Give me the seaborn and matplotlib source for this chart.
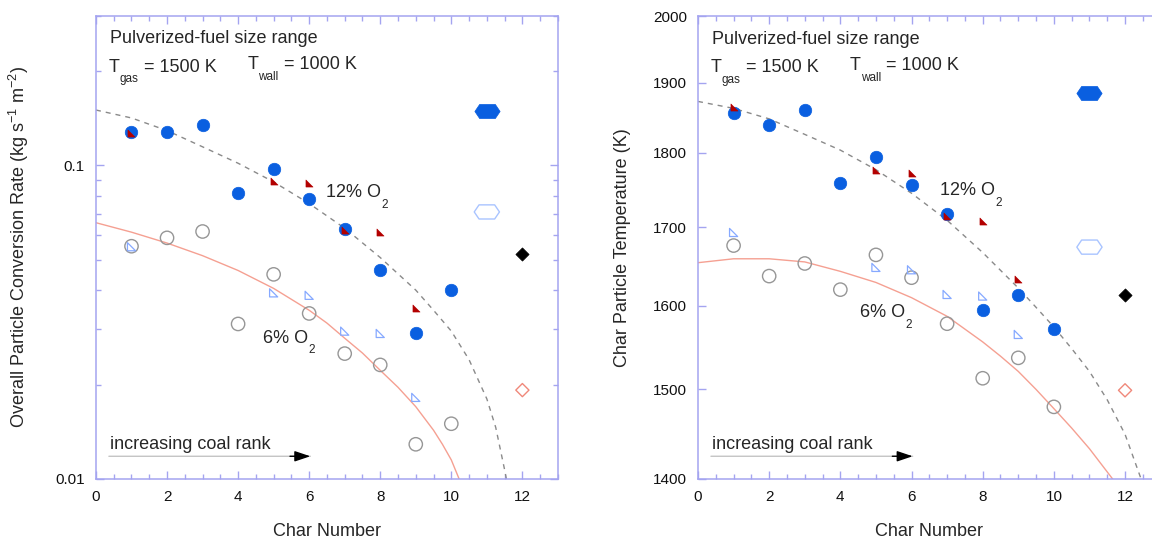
import matplotlib
matplotlib.use("Agg")
import matplotlib.pyplot as plt
from matplotlib.path import Path
from matplotlib.ticker import FixedLocator, FixedFormatter, NullLocator, NullFormatter, MultipleLocator
import pandas as pd
import seaborn as sns

# ---- values ----
char = [1, 2, 3, 4, 5, 6, 7, 8, 9, 10]
tri_char = [1, 5, 6, 7, 8, 9]
hex_char = [11]
dia_char = [12]

# left panel: overall particle conversion rate (kg s-1 m-2)
rate_12 = [0.128, 0.128, 0.134, 0.0818, 0.0971, 0.0781, 0.0628, 0.0463, 0.0291, 0.0400]
rate_6 = [0.0552, 0.0587, 0.0615, 0.0312, 0.0449, 0.0337, 0.0251, 0.0231, 0.0129, 0.0150]
rate_12_tri = [0.127, 0.0891, 0.0877, 0.0620, 0.0613, 0.0350]
rate_6_tri = [0.0550, 0.0392, 0.0385, 0.0296, 0.0291, 0.0182]
rate_hex_12 = [0.1488]
rate_hex_6 = [0.0710]
rate_dia_12 = [0.0521]
rate_dia_6 = [0.0192]
fit12_rate_x = [0, 1, 2, 3, 4, 5, 6, 7, 8, 9, 9.5, 10, 10.5, 11, 11.25, 11.5, 11.55]
fit12_rate = [0.150, 0.1415, 0.129, 0.1145, 0.1015, 0.0885, 0.0755, 0.0630, 0.0508, 0.0400,
              0.0345, 0.0296, 0.0240, 0.0180, 0.0146, 0.0107, 0.0100]
fit6_rate_x = [0, 1, 2, 3, 4, 5, 6, 6.5, 7, 7.5, 8, 8.5, 9, 9.5, 9.75, 10, 10.22]
fit6_rate = [0.0656, 0.0612, 0.0565, 0.0515, 0.0462, 0.0405, 0.0345, 0.0314, 0.0281, 0.0252,
             0.0222, 0.0196, 0.0170, 0.0143, 0.0129, 0.0115, 0.0100]

# right panel: char particle temperature (K)
temp_12 = [1857, 1839, 1861, 1759, 1795, 1756, 1717, 1595, 1613, 1571]
temp_6 = [1676, 1637, 1653, 1620, 1664, 1635, 1578, 1513, 1537, 1480]
temp_12_tri = [1865, 1777, 1773, 1714, 1708, 1633]
temp_6_tri = [1693, 1648, 1645, 1614, 1612, 1565]
temp_hex_12 = [1885]
temp_hex_6 = [1674]
temp_dia_12 = [1613]
temp_dia_6 = [1499]
fit12_temp_x = [0, 1, 2, 3, 4, 5, 6, 7, 8, 9, 9.5, 10, 10.5, 11, 11.5, 12, 12.45]
fit12_temp = [1873, 1863, 1848, 1826, 1804, 1777, 1745, 1709, 1667, 1622, 1598, 1574, 1548,
              1521, 1488, 1449, 1400]
fit6_temp_x = [0, 1, 2, 3, 4, 5, 6, 7, 8, 8.5, 9, 9.5, 10, 10.5, 11, 11.65]
fit6_temp = [1654, 1659, 1659, 1655, 1643, 1629, 1610, 1587, 1556, 1539, 1521, 1500, 1478,
             1456, 1433, 1400]

temp_ticks = [1400, 1500, 1600, 1700, 1800, 1900, 2000]

# ---- styling ----
sns.set_style("white")
plt.rcParams['font.family'] = ['Liberation Sans', 'DejaVu Sans']
plt.rcParams['mathtext.fontset'] = 'custom'
plt.rcParams['mathtext.rm'] = 'Liberation Sans'
plt.rcParams['mathtext.it'] = 'Liberation Sans:italic'
plt.rcParams['mathtext.bf'] = 'Liberation Sans:bold'

spine_col = '#a4a4f0'
blue = '#0a5fe0'
dark_red = '#b30000'
light_blue = '#86a9ff'
gray = '#969696'
salmon = '#f5a092'

tri_ll = Path([(-1, -1), (1, -1), (-1, 1), (-1, -1)], closed=True)
hex_wide = Path([(-1, 0), (-0.62, 0.56), (0.62, 0.56), (1, 0), (0.62, -0.56), (-0.62, -0.56), (-1, 0)],
                closed=True)
diamond = Path([(0, 1), (1, 0), (0, -1), (-1, 0), (0, 1)], closed=True)

fig = plt.figure(figsize=(11.52, 5.43), dpi=100)
ax1 = fig.add_axes([0.0833, 0.1179, 0.4010, 0.8534])
ax2 = fig.add_axes([0.6059, 0.1180, 0.4016, 0.8519])


def draw_panel(ax, y12, y6, y12t, y6t, h12, h6, d12, d6, f12x, f12, f6x, f6):
    sns.lineplot(x=f12x, y=f12, ax=ax, color='#8a8a8a', linewidth=1.0,
                 linestyle=(0, (3.6, 3.6)), estimator=None, sort=False)
    sns.lineplot(x=f6x, y=f6, ax=ax, color=salmon, linewidth=1.0, estimator=None, sort=False)
    sns.scatterplot(x=char, y=y6, ax=ax, marker='o', s=92, facecolor='none',
                    edgecolor=gray, linewidth=1.0, zorder=3)
    sns.scatterplot(x=char, y=y12, ax=ax, marker='o', s=81, color=blue,
                    edgecolor=blue, linewidth=0.5, zorder=3)
    sns.scatterplot(x=tri_char, y=y6t, ax=ax, marker=tri_ll, s=34, facecolor='none',
                    edgecolor=light_blue, linewidth=0.9, zorder=4)
    sns.scatterplot(x=tri_char, y=y12t, ax=ax, marker=tri_ll, s=26, color=dark_red,
                    edgecolor=dark_red, linewidth=0.4, zorder=4)
    sns.scatterplot(x=hex_char, y=h12, ax=ax, marker=hex_wide, s=330, color=blue,
                    edgecolor=blue, linewidth=0.5, zorder=3)
    sns.scatterplot(x=hex_char, y=h6, ax=ax, marker=hex_wide, s=330, facecolor='none',
                    edgecolor='#a9c4ff', linewidth=1.0, zorder=3)
    sns.scatterplot(x=dia_char, y=d12, ax=ax, marker=diamond, s=90, color='black',
                    edgecolor='black', linewidth=0.5, zorder=3)
    sns.scatterplot(x=dia_char, y=d6, ax=ax, marker=diamond, s=90, facecolor='none',
                    edgecolor='#f0887a', linewidth=1.0, zorder=3)

    ax.set_xlim(0, 13)
    ax.xaxis.set_major_locator(MultipleLocator(2))
    ax.xaxis.set_minor_locator(MultipleLocator(0.5))
    for sp in ax.spines.values():
        sp.set_color(spine_col)
        sp.set_linewidth(1.1)
    ax.tick_params(which='both', direction='in', top=True, right=True, bottom=True, left=True,
                   color=spine_col, labelsize=11, labelcolor='#111111', pad=8)
    ax.tick_params(which='major', length=6, width=1)
    ax.tick_params(which='minor', length=3.5, width=1)
    ax.set_xlabel('Char Number', fontsize=13)
    ax.xaxis.set_label_coords(0.5, -0.095)

    # header texts
    ax.text(0.03, 0.940, 'Pulverized-fuel size range', transform=ax.transAxes,
            fontsize=13, va='baseline')
    for xf, yf, sub, rest in [(0.028, 0.879, 'gas', ' = 1500 K'), (0.328, 0.884, 'wall', ' = 1000 K')]:
        t = ax.text(xf, yf, 'T', transform=ax.transAxes, fontsize=13, va='baseline')
        s_ = ax.annotate(sub, xy=(1, 0), xycoords=t, xytext=(0, -7), textcoords='offset points',
                         fontsize=8.5, va='bottom')
        ax.annotate(rest, xy=(1, 0), xycoords=(s_, t), va='bottom', fontsize=13)

    # coal rank arrow
    ax.text(0.03, 0.0647, 'increasing coal rank', transform=ax.transAxes, fontsize=13, va='baseline')
    ax.annotate('', xy=(0.464, 0.049), xytext=(0.028, 0.049), xycoords='axes fraction',
                arrowprops=dict(arrowstyle='-', color='#c4c4c4', lw=1.0, shrinkA=0, shrinkB=0))
    ax.annotate('', xy=(0.464, 0.049), xytext=(0.42, 0.049), xycoords='axes fraction',
                arrowprops=dict(arrowstyle='-|>,head_length=0.95,head_width=0.32', color='black',
                                lw=1.0, shrinkA=0, shrinkB=0))


def o2_label(ax, x, y, pct):
    t = ax.text(x, y, pct + '% O', fontsize=13, va='baseline')
    ax.annotate('2', xy=(1, 0), xycoords=t, xytext=(0.5, -7), textcoords='offset points',
                fontsize=8.5, va='bottom')


# left panel
ax1.set_yscale('log')
draw_panel(ax1, rate_12, rate_6, rate_12_tri, rate_6_tri, rate_hex_12, rate_hex_6,
           rate_dia_12, rate_dia_6, fit12_rate_x, fit12_rate, fit6_rate_x, fit6_rate)
ax1.set_ylim(0.01, 0.3)
ax1.yaxis.set_major_locator(FixedLocator([0.01, 0.1]))
ax1.yaxis.set_major_formatter(FixedFormatter(['0.01', '0.1']))
ax1.yaxis.set_minor_locator(FixedLocator([0.02, 0.03, 0.04, 0.05, 0.06, 0.07, 0.08, 0.09, 0.2, 0.3]))
ax1.yaxis.set_minor_formatter(NullFormatter())
ax1.set_ylabel(r'Overall Particle Conversion Rate (kg s$^{-1}$ m$^{-2}$)', fontsize=13)
ax1.yaxis.set_label_coords(-0.141, 0.5)
o2_label(ax1, 6.47, 0.0793, '12')
o2_label(ax1, 4.69, 0.0272, '6')

# right panel
ax2.set_yscale('log')
draw_panel(ax2, temp_12, temp_6, temp_12_tri, temp_6_tri, temp_hex_12, temp_hex_6,
           temp_dia_12, temp_dia_6, fit12_temp_x, fit12_temp, fit6_temp_x, fit6_temp)
ax2.set_ylim(1400, 2000)
ax2.yaxis.set_major_locator(FixedLocator(temp_ticks))
ax2.yaxis.set_major_formatter(FixedFormatter([str(v) for v in temp_ticks]))
ax2.yaxis.set_minor_locator(NullLocator())
ax2.set_ylabel('Char Particle Temperature (K)', fontsize=13)
ax2.yaxis.set_label_coords(-0.145, 0.5)
o2_label(ax2, 6.79, 1742, '12')
o2_label(ax2, 4.55, 1586, '6')

fig.savefig('out.png', dpi=100)
